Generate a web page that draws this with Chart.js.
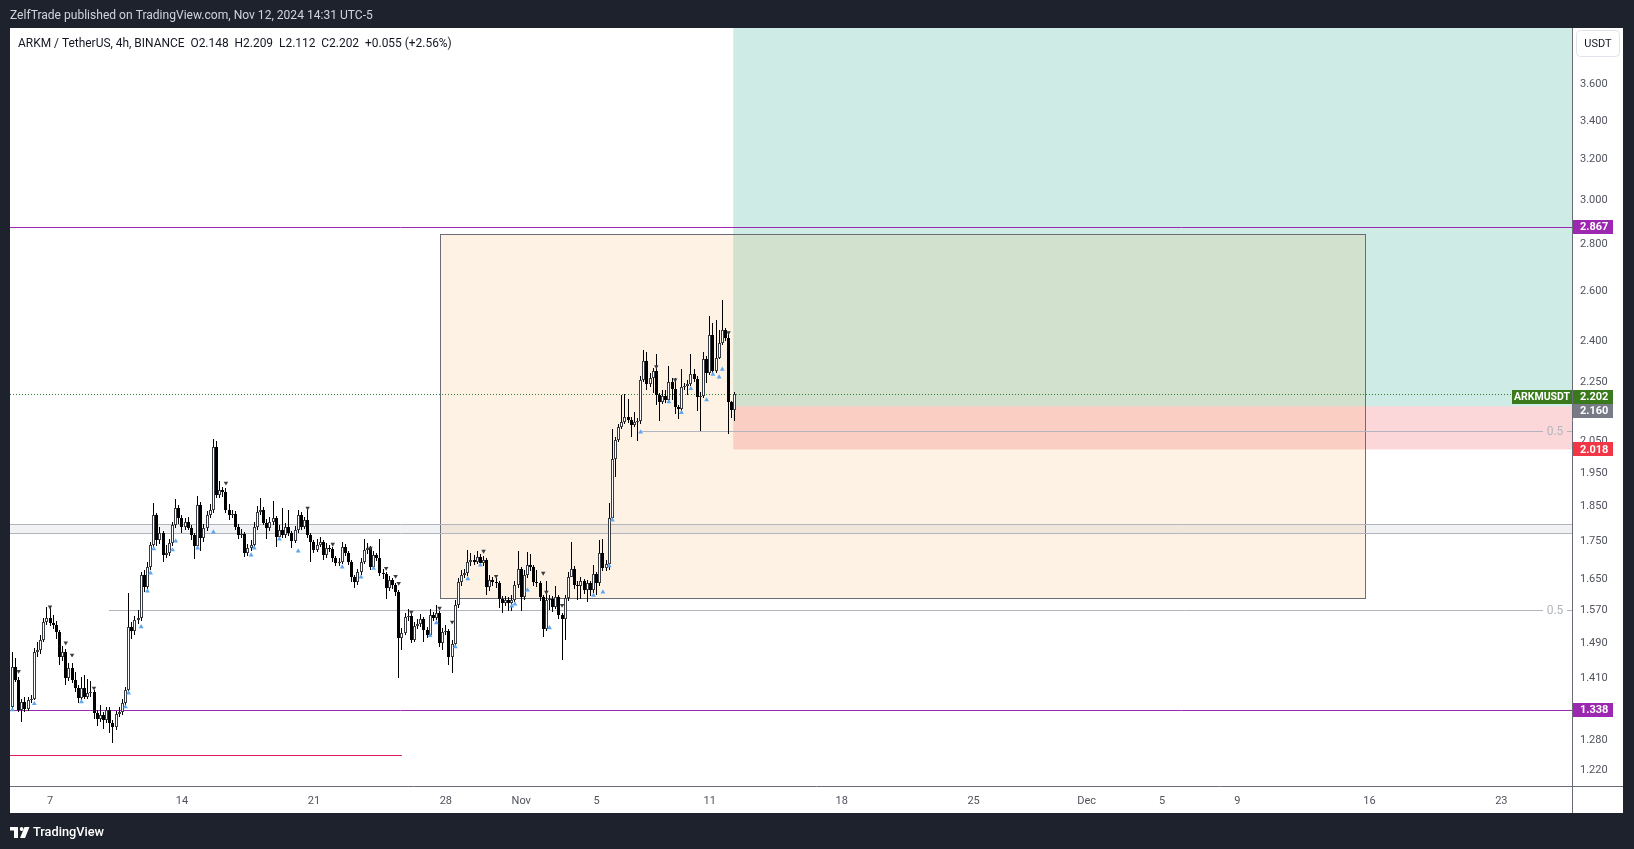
<!DOCTYPE html>
<html>
<head>
<meta charset="utf-8">
<title>ARKM / TetherUS 4h</title>
<script src="https://cdn.jsdelivr.net/npm/chart.js@4.4.1/dist/chart.umd.min.js"></script>
<style>
  html, body { margin: 0; padding: 0; background: #1e222d; overflow: hidden; }
  #wrap { width: 1634px; height: 849px; position: relative; }
</style>
</head>
<body>
<div id="wrap"><canvas id="chart"></canvas></div>
<script>
// ---- data (4h candles from Oct 5, 2024) ----
const firstOpen = 1.345;
const closes = [
  1.432,1.403,1.338,1.355,1.340,1.359,1.362,1.466,1.471,1.494,
  1.537,1.547,1.535,1.530,1.513,1.454,1.466,1.407,1.429,1.403,
  1.385,1.363,1.385,1.365,1.374,1.376,1.331,1.319,1.327,1.317,
  1.338,1.311,1.302,1.330,1.334,1.352,1.381,1.525,1.515,1.542,
  1.547,1.655,1.624,1.676,1.735,1.819,1.749,1.768,1.708,1.714,
  1.740,1.791,1.840,1.811,1.786,1.800,1.783,1.763,1.732,1.848,
  1.755,1.783,1.819,1.834,2.025,1.878,1.893,1.887,1.834,1.819,
  1.822,1.786,1.763,1.766,1.714,1.727,1.735,1.786,1.828,1.834,
  1.797,1.783,1.800,1.811,1.758,1.777,1.763,1.786,1.768,1.746,
  1.777,1.819,1.786,1.805,1.763,1.743,1.722,1.735,1.743,1.708,
  1.727,1.724,1.700,1.687,1.690,1.730,1.714,1.690,1.650,1.637,
  1.663,1.690,1.722,1.727,1.676,1.708,1.700,1.660,1.658,1.621,
  1.642,1.629,1.611,1.499,1.511,1.549,1.552,1.494,1.528,1.532,
  1.545,1.518,1.506,1.554,1.547,1.559,1.487,1.513,1.515,1.454,
  1.485,1.578,1.637,1.655,1.660,1.690,1.695,1.690,1.703,1.687,
  1.695,1.624,1.642,1.637,1.634,1.593,1.583,1.591,1.583,1.591,
  1.629,1.671,1.598,1.655,1.681,1.676,1.637,1.634,1.598,1.520,
  1.591,1.593,1.573,1.598,1.554,1.545,1.596,1.650,1.671,1.629,
  1.627,1.639,1.616,1.634,1.616,1.658,1.634,1.714,1.673,1.684,
  1.811,1.988,2.048,2.091,2.108,2.124,2.114,2.098,2.108,2.111,
  2.252,2.320,2.238,2.259,2.284,2.199,2.175,2.196,2.182,2.245,
  2.221,2.158,2.151,2.228,2.231,2.238,2.273,2.255,2.192,2.196,
  2.327,2.277,2.417,2.284,2.333,2.387,2.436,2.405,2.175,2.148,
  2.202
];
const highs = [
  1.466,1.452,1.410,1.362,1.366,1.366,1.370,1.474,1.488,1.505,
  1.546,1.573,1.571,1.553,1.540,1.518,1.480,1.472,1.440,1.440,
  1.420,1.392,1.410,1.413,1.405,1.400,1.381,1.337,1.348,1.334,
  1.345,1.343,1.316,1.336,1.345,1.360,1.388,1.610,1.538,1.552,
  1.566,1.662,1.668,1.690,1.745,1.854,1.826,1.786,1.775,1.735,
  1.752,1.800,1.866,1.848,1.820,1.812,1.815,1.790,1.770,1.875,
  1.856,1.795,1.830,1.852,2.051,2.044,1.920,1.903,1.900,1.852,
  1.835,1.830,1.795,1.780,1.772,1.738,1.748,1.800,1.845,1.870,
  1.842,1.808,1.815,1.860,1.818,1.790,1.840,1.798,1.835,1.775,
  1.788,1.835,1.828,1.815,1.838,1.770,1.750,1.752,1.758,1.748,
  1.740,1.735,1.730,1.706,1.700,1.744,1.738,1.720,1.695,1.655,
  1.672,1.700,1.752,1.740,1.733,1.718,1.715,1.752,1.670,1.664,
  1.652,1.648,1.635,1.616,1.522,1.560,1.568,1.558,1.538,1.545,
  1.556,1.550,1.525,1.569,1.562,1.578,1.565,1.522,1.530,1.520,
  1.494,1.592,1.648,1.668,1.672,1.722,1.715,1.708,1.718,1.710,
  1.705,1.700,1.655,1.650,1.648,1.640,1.600,1.602,1.598,1.603,
  1.640,1.720,1.677,1.668,1.717,1.712,1.682,1.668,1.640,1.604,
  1.640,1.605,1.600,1.627,1.604,1.560,1.605,1.662,1.745,1.678,
  1.640,1.650,1.645,1.643,1.640,1.682,1.664,1.749,1.752,1.695,
  1.854,2.085,2.058,2.100,2.200,2.203,2.185,2.125,2.140,2.122,
  2.265,2.361,2.355,2.275,2.296,2.345,2.205,2.217,2.217,2.303,
  2.260,2.258,2.165,2.290,2.240,2.250,2.346,2.290,2.265,2.210,
  2.355,2.340,2.490,2.465,2.476,2.436,2.555,2.445,2.420,2.180,
  2.209
];
const lows = [
  1.338,1.398,1.334,1.313,1.334,1.336,1.352,1.358,1.455,1.462,
  1.488,1.530,1.528,1.520,1.496,1.436,1.446,1.392,1.400,1.396,
  1.376,1.352,1.358,1.360,1.360,1.366,1.318,1.305,1.313,1.298,
  1.310,1.290,1.270,1.296,1.322,1.328,1.348,1.376,1.496,1.505,
  1.533,1.540,1.612,1.618,1.668,1.728,1.733,1.738,1.690,1.700,
  1.705,1.733,1.784,1.795,1.768,1.778,1.776,1.750,1.698,1.725,
  1.719,1.745,1.775,1.810,1.826,1.870,1.868,1.872,1.826,1.805,
  1.810,1.778,1.752,1.755,1.702,1.706,1.718,1.728,1.778,1.820,
  1.790,1.752,1.775,1.792,1.730,1.748,1.755,1.755,1.760,1.728,
  1.740,1.770,1.778,1.780,1.755,1.690,1.715,1.716,1.730,1.695,
  1.700,1.716,1.690,1.678,1.680,1.684,1.706,1.682,1.637,1.621,
  1.630,1.656,1.684,1.712,1.668,1.670,1.692,1.652,1.645,1.593,
  1.615,1.620,1.602,1.407,1.471,1.505,1.540,1.486,1.488,1.520,
  1.525,1.488,1.498,1.500,1.540,1.541,1.478,1.471,1.505,1.437,
  1.419,1.480,1.572,1.628,1.648,1.652,1.680,1.682,1.685,1.678,
  1.680,1.604,1.615,1.626,1.622,1.571,1.559,1.575,1.565,1.563,
  1.585,1.622,1.565,1.590,1.648,1.665,1.628,1.625,1.588,1.501,
  1.515,1.566,1.562,1.568,1.545,1.447,1.494,1.588,1.662,1.618,
  1.591,1.594,1.606,1.586,1.600,1.610,1.603,1.628,1.665,1.665,
  1.668,1.805,1.931,2.043,2.085,2.100,2.105,2.057,2.090,2.045,
  2.100,2.245,2.216,2.228,2.205,2.165,2.110,2.168,2.172,2.175,
  2.182,2.135,2.118,2.145,2.215,2.200,2.230,2.245,2.145,2.078,
  2.190,2.240,2.270,2.270,2.278,2.326,2.380,2.395,2.068,2.120,
  2.112
];

// indicator marks: candle index and price
const upMarkIdx = [0,7,22,36,37,41,43,44,45,51,52,59,64,76,77,85,91,105,111,115,133,135,141,145,149,159,160,164,171,185,188,190,191,200,209,213,216,221,223,225,226];
const upMarkVal = [1.338,1.351,1.355,1.344,1.374,1.525,1.614,1.660,1.725,1.722,1.746,1.727,1.771,1.708,1.727,1.752,1.719,1.676,1.650,1.673,1.504,1.535,1.478,1.645,1.681,1.576,1.581,1.616,1.523,1.603,1.611,1.679,1.805,2.074,2.175,2.139,2.221,2.182,2.272,2.262,2.290];
const downMarkIdx = [2,12,17,19,26,68,94,102,114,119,122,123,127,136,140,150,154,169,170,175,205,211,228];
const downMarkVal = [1.422,1.574,1.487,1.459,1.385,1.914,1.840,1.738,1.727,1.673,1.652,1.634,1.561,1.571,1.537,1.719,1.652,1.660,1.611,1.578,2.300,2.252,2.427];

// axes
const xTickDates = ['2024-10-07','2024-10-14','2024-10-21','2024-10-28','2024-11-01','2024-11-05','2024-11-11','2024-11-18','2024-11-25','2024-12-01','2024-12-05','2024-12-09','2024-12-16','2024-12-23'];
const xTickLabels = ['7','14','21','28','Nov','5','11','18','25','Dec','5','9','16','23'];
const yTickValues = [3.6,3.4,3.2,3.0,2.8,2.6,2.4,2.25,2.05,1.95,1.85,1.75,1.65,1.57,1.49,1.41,1.28,1.22];

// drawings
const purpleLevels = [2.867, 1.338];
const lastPrice = 2.202;
const entryPrice = 2.160, stopPrice = 2.018, targetPrice = 4.05;
const bandLevels = [1.768, 1.793];
const supportLevel = 1.245;
const fibLevels = [1.566, 2.078];
const fibStarts = [Date.UTC(2024,9,10,3), Date.UTC(2024,10,7,10)];
const rangeTop = 2.833, rangeBottom = 1.596;

const titleText = 'ZelfTrade published on TradingView.com, Nov 12, 2024 14:31 UTC-5';
const legendText = 'ARKM / TetherUS, 4h, BINANCE  O2.148  H2.209  L2.112  C2.202  +0.055 (+2.56%)';

const candleStart = Date.UTC(2024, 9, 5);
const candleStep = 4 * 3600 * 1000;
const xMin = Date.UTC(2024, 9, 4, 21);
const xMax = Date.UTC(2024, 11, 26, 18);
const yMin = 1.1864, yMax = 3.9245;
const supportEnd = Date.UTC(2024, 9, 25, 16);
const rangeStart = Date.UTC(2024, 9, 27, 16), rangeEnd = Date.UTC(2024, 11, 15, 18);
const positionStart = Date.UTC(2024, 10, 12, 6);

const times = closes.map((c, i) => candleStart + i * candleStep);
const opens = closes.map((c, i) => i === 0 ? firstOpen : closes[i - 1]);
const isUp = closes.map((c, i) => c >= opens[i]);

const FONT = 'Roboto, "Noto Sans", sans-serif';

function fitText(ctx, text, x, y, width, weight, color, align) {
  ctx.font = weight + ' 20px ' + FONT;
  const w = ctx.measureText(text).width;
  const size = 20 * width / w;
  ctx.font = weight + ' ' + size.toFixed(2) + 'px ' + FONT;
  ctx.fillStyle = color;
  ctx.textBaseline = 'middle';
  ctx.textAlign = align || 'left';
  ctx.fillText(text, x, y);
}

function hline(ctx, x1, x2, y, color) {
  const yy = Math.round(y) + 0.5;
  ctx.strokeStyle = color;
  ctx.beginPath(); ctx.moveTo(x1, yy); ctx.lineTo(x2, yy); ctx.stroke();
}

const tvPlugin = {
  id: 'tvDraw',
  beforeDraw(chart) {
    const ctx = chart.ctx, a = chart.chartArea;
    ctx.save();
    ctx.fillStyle = '#1e222d';
    ctx.fillRect(0, 0, chart.width, chart.height);
    ctx.fillStyle = '#ffffff';
    ctx.fillRect(a.left, a.top, a.right - a.left + 51, a.bottom - a.top + 27);
    fitText(ctx, titleText, 10, 15.5, 363, '400', '#d1d4dc');
    // footer logo
    ctx.fillStyle = '#ffffff';
    ctx.fillRect(10, 827, 8, 3.5);
    ctx.fillRect(14, 827, 4, 11);
    ctx.beginPath(); ctx.arc(21.6, 829, 1.9, 0, Math.PI * 2); ctx.fill();
    ctx.beginPath();
    ctx.moveTo(24.5, 827); ctx.lineTo(29.5, 827); ctx.lineTo(25, 838); ctx.lineTo(20, 838);
    ctx.closePath(); ctx.fill();
    fitText(ctx, 'TradingView', 33, 833, 71, '500', '#ffffff');
    ctx.restore();
  },
  beforeDatasetsDraw(chart) {
    const ctx = chart.ctx, a = chart.chartArea;
    const xs = chart.scales.x, ys = chart.scales.y;
    const px = t => xs.getPixelForValue(t), py = v => ys.getPixelForValue(v);
    ctx.save();
    ctx.beginPath(); ctx.rect(a.left, a.top, a.right - a.left, a.bottom - a.top); ctx.clip();
    ctx.lineWidth = 1;

    // long position: profit and stop zones
    const p0 = px(positionStart);
    ctx.fillStyle = 'rgba(8,153,129,0.2)';
    ctx.fillRect(p0, py(targetPrice), a.right - p0, py(entryPrice) - py(targetPrice));
    ctx.fillStyle = 'rgba(242,54,69,0.2)';
    ctx.fillRect(p0, py(entryPrice), a.right - p0, py(stopPrice) - py(entryPrice));

    // range box
    const bx1 = Math.round(px(rangeStart)) + 0.5, bx2 = Math.round(px(rangeEnd)) + 0.5;
    const by1 = Math.round(py(rangeTop)) + 0.5, by2 = Math.round(py(rangeBottom)) + 0.5;
    ctx.fillStyle = 'rgba(245,124,0,0.1)';
    ctx.fillRect(bx1, by1, bx2 - bx1, by2 - by1);
    ctx.strokeStyle = '#6a6d78';
    ctx.strokeRect(bx1, by1, bx2 - bx1, by2 - by1);

    // gray zone
    const g1 = py(bandLevels[1]), g2 = py(bandLevels[0]);
    ctx.fillStyle = 'rgba(120,123,134,0.1)';
    ctx.fillRect(a.left, g1, a.right - a.left, g2 - g1);
    hline(ctx, a.left, a.right, g1, '#b2b5be');
    hline(ctx, a.left, a.right, g2, '#b2b5be');

    // horizontal levels
    purpleLevels.forEach(v => hline(ctx, a.left, a.right, py(v), '#9c27b0'));
    hline(ctx, a.left, px(supportEnd), py(supportLevel), '#e0195a');
    fibLevels.forEach((v, i) => {
      hline(ctx, px(fibStarts[i]), a.right - 29, py(v), '#b2b5be');
      hline(ctx, a.right - 5, a.right, py(v), '#b2b5be');
    });

    // last price line
    ctx.setLineDash([1, 2]);
    hline(ctx, a.left, a.right, py(lastPrice), '#2e7d32');
    ctx.setLineDash([]);
    ctx.restore();

    // snap candle bars to the pixel grid so they render crisp
    chart.getSortedVisibleDatasetMetas().forEach(meta => {
      if (meta.type !== 'bar') return;
      meta.data.forEach(el => {
        el.x = Math.floor(el.x) + 0.5;
        el.y = Math.round(el.y);
        el.base = Math.round(el.base);
      });
    });
  },
  afterDraw(chart) {
    const ctx = chart.ctx, a = chart.chartArea;
    const ys = chart.scales.y;
    const py = v => ys.getPixelForValue(v);
    const right = a.right + 51, bottom = a.bottom + 27;
    ctx.save();
    ctx.lineWidth = 1;
    ctx.strokeStyle = '#6a6d78';
    ctx.beginPath();
    ctx.moveTo(a.right + 0.5, a.top); ctx.lineTo(a.right + 0.5, bottom);
    ctx.moveTo(a.left, a.bottom + 0.5); ctx.lineTo(right, a.bottom + 0.5);
    ctx.stroke();

    // fib labels
    ctx.font = '12px ' + FONT;
    ctx.fillStyle = '#b2b5be';
    ctx.textAlign = 'center'; ctx.textBaseline = 'middle';
    fibLevels.forEach(v => ctx.fillText('0.5', a.right - 17, py(v) + 1));

    // USDT button
    ctx.fillStyle = '#ffffff';
    ctx.strokeStyle = '#e0e3eb';
    ctx.beginPath();
    ctx.roundRect(a.right + 4.5, a.top + 2.5, 43, 26, 4);
    ctx.fill(); ctx.stroke();
    ctx.font = '11px ' + FONT;
    ctx.fillStyle = '#131722';
    ctx.fillText('USDT', a.right + 26, a.top + 16);

    // price labels on the axis
    const tags = [
      {v: purpleLevels[0], bg: '#9c27b0', dy: 0},
      {v: lastPrice, bg: '#3a7a1c', dy: 3},
      {v: entryPrice, bg: '#787b86', dy: 4.5},
      {v: stopPrice, bg: '#f23645', dy: 0},
      {v: purpleLevels[1], bg: '#9c27b0', dy: 0}
    ];
    ctx.font = 'bold 11px ' + FONT;
    ctx.textAlign = 'left';
    tags.forEach(t => {
      const y = py(t.v) + t.dy;
      ctx.fillStyle = t.bg;
      ctx.fillRect(a.right + 1, Math.round(y - 7), 40, 14);
      ctx.fillStyle = '#ffffff';
      ctx.fillText(t.v.toFixed(3), a.right + 8, y + 0.5);
      if (t.v === lastPrice) {
        ctx.fillStyle = t.bg;
        ctx.fillRect(a.right - 60, Math.round(y - 7), 60, 14);
        ctx.fillStyle = '#ffffff';
        ctx.font = 'bold 10.5px ' + FONT;
        ctx.textAlign = 'center';
        ctx.fillText('ARKMUSDT', a.right - 30, y + 0.5);
        ctx.font = 'bold 11px ' + FONT;
        ctx.textAlign = 'left';
      }
    });

    // legend line
    fitText(ctx, legendText, 18, 44, 434, '400', '#131722');
    ctx.restore();
  }
};

const ctx = document.getElementById('chart').getContext('2d');
new Chart(ctx, {
  type: 'bar',
  data: {
    datasets: [
      {
        label: 'bodies',
        order: 0,
        grouped: false,
        data: times.map((t, i) => ({x: t, y: [opens[i], closes[i]]})),
        backgroundColor: isUp.map(u => u ? '#ffffff' : '#000000'),
        borderColor: isUp.map(u => u ? '#3a3c44' : '#000000'),
        borderWidth: 1,
        borderSkipped: false,
        inflateAmount: 0,
        barThickness: 3,
        minBarLength: 1
      },
      {
        label: 'wicks',
        order: 1,
        grouped: false,
        data: times.map((t, i) => ({x: t, y: [lows[i], highs[i]]})),
        backgroundColor: '#000000',
        borderWidth: 0,
        inflateAmount: 0,
        barThickness: 1
      },
      {
        type: 'scatter',
        label: 'up marks',
        order: -1,
        data: upMarkIdx.map((k, i) => ({x: times[k], y: upMarkVal[i]})),
        pointStyle: 'triangle',
        radius: 2.8,
        backgroundColor: '#5ea8f0',
        borderWidth: 0
      },
      {
        type: 'scatter',
        label: 'down marks',
        order: -1,
        data: downMarkIdx.map((k, i) => ({x: times[k], y: downMarkVal[i]})),
        pointStyle: 'triangle',
        rotation: 180,
        radius: 2.6,
        backgroundColor: '#3a3c44',
        borderWidth: 0
      }
    ]
  },
  options: {
    responsive: true,
    maintainAspectRatio: false,
    animation: false,
    events: [],
    layout: {padding: {left: 10, top: 28, right: 11, bottom: 36}},
    plugins: {legend: {display: false}, tooltip: {enabled: false}},
    scales: {
      x: {
        type: 'linear',
        min: xMin, max: xMax,
        bounds: 'data',
        offset: false,
        grid: {display: false, drawTicks: false},
        border: {display: false},
        afterBuildTicks: s => { s.ticks = xTickDates.map(d => ({value: Date.parse(d + 'T00:00:00Z')})); },
        afterFit: s => { s.height = 27; },
        ticks: {
          autoSkip: false, maxRotation: 0, padding: 9,
          color: '#50535e', font: {family: FONT, size: 11},
          callback: (v, i) => xTickLabels[i]
        }
      },
      y: {
        type: 'logarithmic',
        position: 'right',
        min: yMin, max: yMax,
        bounds: 'data',
        beginAtZero: false,
        grid: {display: false, drawTicks: false},
        border: {display: false},
        afterBuildTicks: s => { s.ticks = yTickValues.map(v => ({value: v})); },
        afterFit: s => { s.width = 51; },
        ticks: {
          autoSkip: false, padding: 8, labelOffset: 2,
          color: '#50535e', font: {family: FONT, size: 11},
          callback: v => Number(v).toFixed(3)
        }
      }
    }
  },
  plugins: [tvPlugin]
});
</script>
</body>
</html>
